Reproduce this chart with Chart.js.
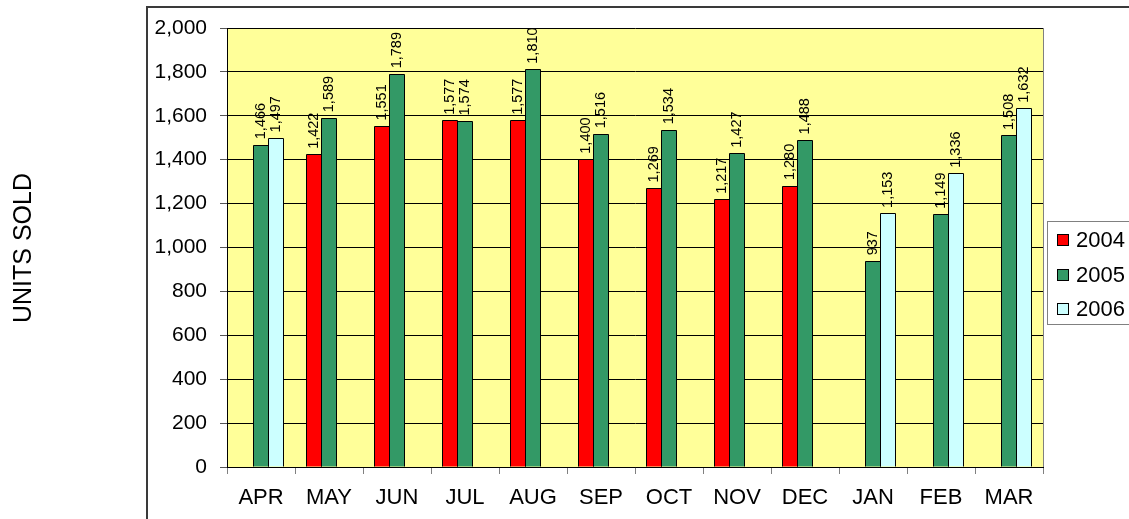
<!DOCTYPE html>
<html><head><meta charset="utf-8">
<script src="https://cdn.jsdelivr.net/npm/chart.js@4"></script>
<style>html,body{margin:0;padding:0;background:#fff;overflow:hidden}canvas{display:block}</style>
</head><body>
<canvas id="c" width="1129" height="519"></canvas>
<script>
const months = ['APR','MAY','JUN','JUL','AUG','SEP','OCT','NOV','DEC','JAN','FEB','MAR'];
const seriesNames = ['2004','2005','2006'];
const units2004 = [null,1422,1551,1577,1577,1400,1269,1217,1280,null,null,null];
const units2005 = [1466,1589,1789,1574,1810,1516,1534,1427,1488,937,1149,1508];
const units2006 = [1497,null,null,null,null,null,null,null,null,1153,1336,1632];
const seriesColors = ['#FF0000','#339966','#CCFFFF'];
const yAxisTitle = 'UNITS SOLD';

const FONT = '"Liberation Sans", Arial, sans-serif';
const fmt = v => v.toLocaleString('en-US');

const decorPlugin = {
  id: 'decor',
  beforeDraw(chart) {
    const {ctx, chartArea: a} = chart;
    ctx.save();
    ctx.fillStyle = '#FFFFFF';
    ctx.fillRect(0, 0, chart.width, chart.height);
    ctx.fillStyle = '#FFFF99';
    ctx.fillRect(a.left, a.top, a.right - a.left, a.bottom - a.top);
    ctx.restore();
  },
  afterDatasetsDraw(chart) {
    // crisp black outline around each bar element (positions from the library)
    const ctx = chart.ctx;
    ctx.save();
    ctx.strokeStyle = '#000';
    ctx.lineWidth = 1;
    chart.data.datasets.forEach((ds, i) => {
      chart.getDatasetMeta(i).data.forEach((bar, j) => {
        if (ds.data[j] == null) return;
        const x0 = Math.floor(bar.x - bar.width / 2) + 0.5;
        const x1 = Math.floor(bar.x + bar.width / 2) + 0.5;
        const y0 = Math.floor(bar.y) + 0.5;
        const y1 = Math.floor(bar.base) + 0.5;
        ctx.beginPath();
        ctx.moveTo(x0, y1);
        ctx.lineTo(x0, y0);
        ctx.lineTo(x1, y0);
        ctx.lineTo(x1, y1);
        ctx.stroke();
      });
    });
    ctx.restore();
  },
  afterDraw(chart) {
    const {ctx, chartArea: a} = chart;
    ctx.save();
    ctx.strokeStyle = '#808080';
    ctx.lineWidth = 1;
    ctx.beginPath();
    ctx.moveTo(Math.round(a.right) + 0.5, a.top);
    ctx.lineTo(Math.round(a.right) + 0.5, a.bottom);
    ctx.stroke();
    ctx.strokeStyle = '#3a3a3a';
    ctx.lineWidth = 2;
    ctx.beginPath();
    ctx.moveTo(147, chart.height + 2);
    ctx.lineTo(147, 7);
    ctx.lineTo(chart.width + 2, 7);
    ctx.stroke();
    ctx.fillStyle = '#000';
    ctx.font = '25px ' + FONT;
    ctx.textAlign = 'center';
    ctx.textBaseline = 'middle';
    ctx.translate(24, 248);
    ctx.rotate(-Math.PI / 2);
    ctx.fillText(yAxisTitle, 0, 0);
    ctx.restore();

    ctx.save();
    ctx.fillStyle = '#000';
    ctx.font = '14.5px ' + FONT;
    ctx.textAlign = 'left';
    ctx.textBaseline = 'middle';
    chart.data.datasets.forEach((ds, i) => {
      const meta = chart.getDatasetMeta(i);
      meta.data.forEach((bar, j) => {
        const v = ds.data[j];
        if (v == null) return;
        ctx.save();
        ctx.translate(bar.x, bar.y - 6);
        ctx.rotate(-Math.PI / 2);
        ctx.fillText(fmt(v), 0, 0);
        ctx.restore();
      });
    });
    ctx.restore();

    ctx.save();
    const lx = 1047, ly = 221, lh = 103;
    ctx.fillStyle = '#FFFFFF';
    ctx.fillRect(lx, ly, chart.width - lx + 5, lh);
    ctx.strokeStyle = '#808080';
    ctx.lineWidth = 1;
    ctx.strokeRect(lx + 0.5, ly + 0.5, chart.width - lx + 5, lh);
    ctx.font = '22px ' + FONT;
    ctx.textAlign = 'left';
    ctx.textBaseline = 'middle';
    seriesNames.forEach((name, i) => {
      const cy = 240 + i * 34.5;
      ctx.fillStyle = seriesColors[i];
      ctx.fillRect(1057, Math.round(cy - 6), 12, 12);
      ctx.strokeStyle = '#000';
      ctx.strokeRect(1057.5, Math.round(cy - 6) + 0.5, 11, 11);
      ctx.fillStyle = '#000';
      ctx.fillText(name, 1076, cy + 1);
    });
    ctx.restore();
  }
};

new Chart(document.getElementById('c'), {
  type: 'bar',
  data: {
    labels: months,
    datasets: [
      {label: seriesNames[0], data: units2004, backgroundColor: seriesColors[0]},
      {label: seriesNames[1], data: units2005, backgroundColor: seriesColors[1]},
      {label: seriesNames[2], data: units2006, backgroundColor: seriesColors[2]}
    ].map(d => Object.assign(d, {borderWidth: 0, categoryPercentage: 0.662, barPercentage: 1.0}))
  },
  options: {
    responsive: false,
    animation: false,
    devicePixelRatio: 1,
    layout: {padding: {left: 0, top: 28, right: 1129 - 1043, bottom: 0}},
    plugins: {legend: {display: false}, tooltip: {enabled: false}},
    scales: {
      x: {
        afterFit(s) { s.height = 52; },
        grid: {offset: true, drawOnChartArea: false, drawTicks: true, tickLength: 7, color: '#808080'},
        border: {display: true, color: '#000', width: 1},
        ticks: {color: '#000', font: {family: FONT, size: 22}, padding: 11, maxRotation: 0, autoSkip: false}
      },
      y: {
        min: 0, max: 2000,
        afterFit(s) { s.width = 227; },
        grid: {color: '#000', lineWidth: 1, tickLength: 7, tickColor: '#555'},
        border: {display: true, color: '#000', width: 1},
        ticks: {stepSize: 200, color: '#000', font: {family: FONT, size: 21}, padding: 13, callback: v => fmt(v)}
      }
    }
  },
  plugins: [decorPlugin]
});
</script>
</body></html>
